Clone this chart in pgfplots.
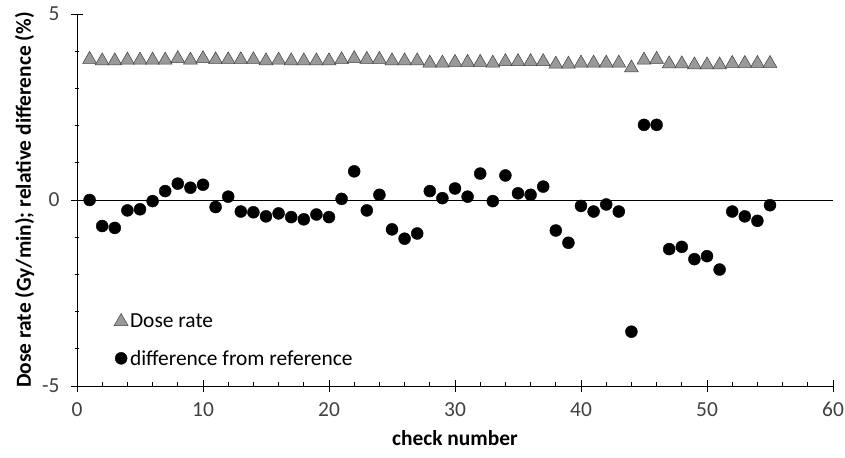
\documentclass[border=0pt]{standalone}
\usepackage{fontspec}
\setmainfont{Carlito}
\usepackage{pgfplots}
\pgfplotsset{compat=1.18}

\definecolor{tickgray}{HTML}{404040}
\definecolor{trifill}{HTML}{999999}

\begin{document}
\begin{tikzpicture}
  \begin{axis}[
      name=ax,
      scale only axis,
      width=756bp, height=372bp,
      xmin=0, xmax=60,
      ymin=-5, ymax=5,
      xtick={0,10,...,60},
      ytick={-5,0,5},
      minor x tick num=4,
      minor y tick num=4,
      axis x line=bottom,
      axis y line=left,
      axis line style={-, black, line width=0.8pt},
      tick align=center,
      major tick length=12bp,
      every tick/.style={black, line width=0.8pt},
      minor x tick style={yshift=2bp},
      minor tick length=4bp,
      ticklabel style={font=\fontsize{21.5}{24}\selectfont, text=tickgray},
      xticklabel style={yshift=-7bp},
      yticklabel style={xshift=-8bp},
      /pgf/number format/assume math mode=true,
      xlabel={\textbf{check number}},
      ylabel={\textbf{Dose rate (Gy/min); relative difference (\%)}},
      label style={font=\fontsize{21.5}{24}\selectfont},
      xlabel style={yshift=-6bp},
      ylabel style={yshift=1bp},
      legend style={draw=none, fill=none, at={(0.045,0.205)}, anchor=north west,
        font=\fontsize{21.5}{24}\selectfont, row sep=17bp,
        /tikz/every even column/.append style={column sep=3bp}},
      legend image code/.code={\draw[mark repeat=2,mark phase=2] plot coordinates {(0cm,0cm) (0.1cm,0cm) (0.2cm,0cm)};},
      legend cell align=left,
      clip=false,
    ]

    \draw[black, line width=0.8pt] (axis cs:0,0) -- (axis cs:60,0);

    \addplot[only marks, mark=triangle*, mark size=8bp,
      mark options={fill=trifill, draw=black!75, line width=0.5pt}]
      coordinates {
        (1,3.78)(2,3.74)(3,3.74)(4,3.76)(5,3.76)(6,3.76)(7,3.76)(8,3.80)(9,3.76)(10,3.80)
        (11,3.77)(12,3.77)(13,3.77)(14,3.77)(15,3.74)(16,3.76)(17,3.74)(18,3.74)(19,3.74)(20,3.74)
        (21,3.77)(22,3.80)(23,3.78)(24,3.78)(25,3.74)(26,3.74)(27,3.74)(28,3.68)(29,3.68)(30,3.70)
        (31,3.70)(32,3.70)(33,3.68)(34,3.72)(35,3.72)(36,3.72)(37,3.72)(38,3.65)(39,3.65)(40,3.68)
        (41,3.68)(42,3.68)(43,3.68)(44,3.55)(45,3.76)(46,3.78)(47,3.66)(48,3.66)(49,3.63)(50,3.63)
        (51,3.63)(52,3.67)(53,3.67)(54,3.67)(55,3.67)
      };
    \addlegendentry{Dose rate}

    \addplot[only marks, mark=*, mark size=6bp, mark options={fill=black, draw=black}]
      coordinates {
        (1,0.00)(2,-0.70)(3,-0.75)(4,-0.28)(5,-0.25)(6,-0.03)(7,0.24)(8,0.44)(9,0.33)(10,0.41)
        (11,-0.19)(12,0.09)(13,-0.31)(14,-0.33)(15,-0.44)(16,-0.36)(17,-0.46)(18,-0.52)(19,-0.39)(20,-0.46)
        (21,0.03)(22,0.77)(23,-0.28)(24,0.14)(25,-0.79)(26,-1.04)(27,-0.90)(28,0.24)(29,0.05)(30,0.31)
        (31,0.09)(32,0.71)(33,-0.03)(34,0.66)(35,0.18)(36,0.14)(37,0.36)(38,-0.82)(39,-1.15)(40,-0.16)
        (41,-0.31)(42,-0.12)(43,-0.31)(44,-3.54)(45,2.02)(46,2.02)(47,-1.32)(48,-1.26)(49,-1.59)(50,-1.51)
        (51,-1.87)(52,-0.31)(53,-0.44)(54,-0.56)(55,-0.14)
      };
    \addlegendentry{difference from reference}

  \end{axis}
  \pgfresetboundingbox
  \path ([shift={(-77bp,-72bp)}]ax.south west) rectangle ([shift={(12bp,14bp)}]ax.north east);
\end{tikzpicture}
\end{document}
